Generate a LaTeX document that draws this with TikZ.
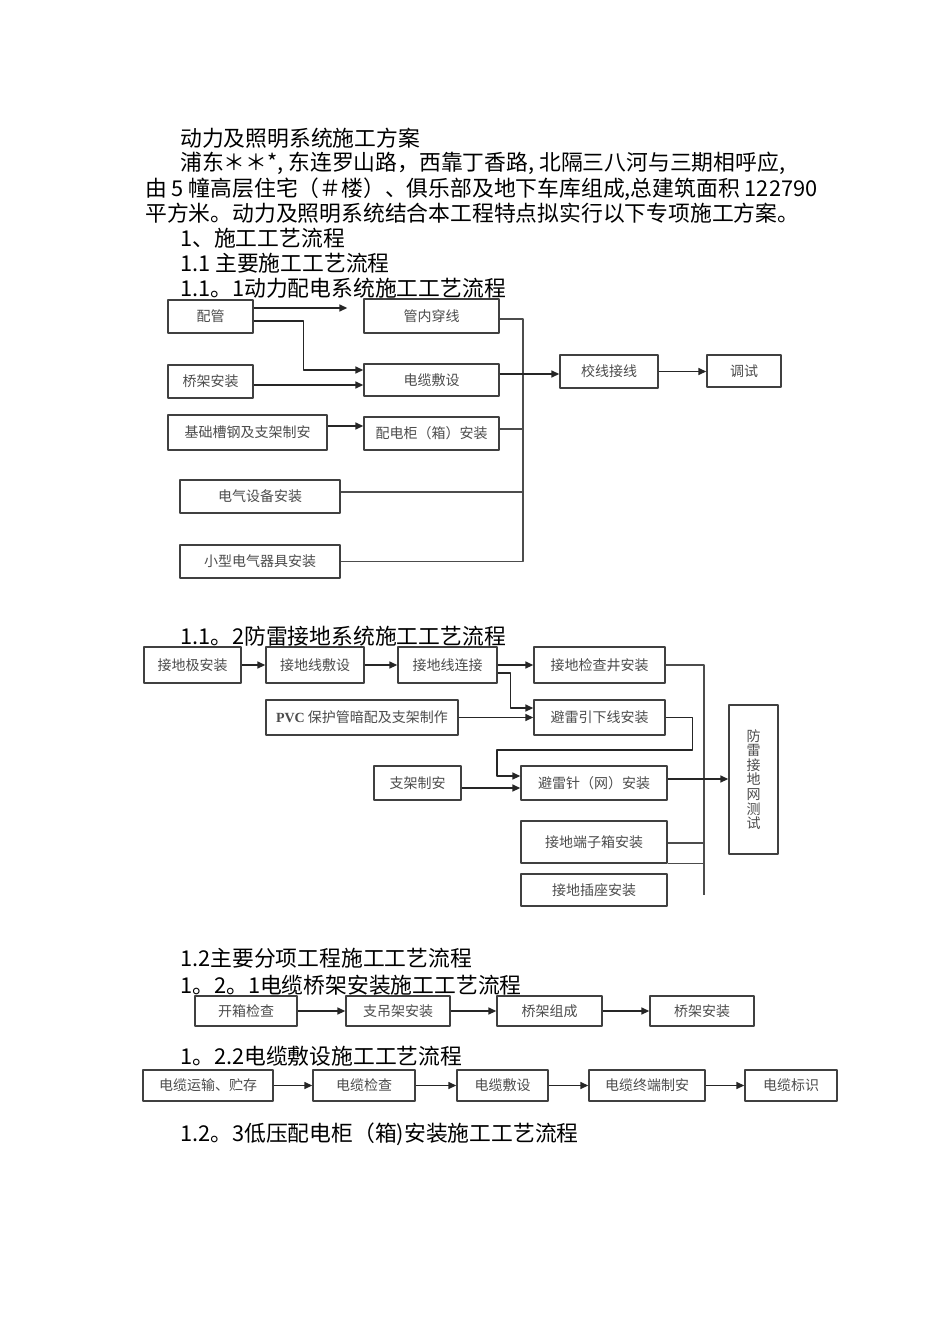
\documentclass[tikz,border=0pt]{standalone}
\usepackage{fontspec}
\setmainfont{Noto Sans CJK SC}
\newfontfamily\latin{Liberation Serif}
\usetikzlibrary{arrows.meta}
\begin{document}
\begin{tikzpicture}[x=1pt, y=-1pt, line join=round, >={Triangle[length=8pt,width=7pt]},
	box/.style={draw=black!75, line width=1.4pt, inner sep=0pt, font=\fontsize{14}{16}\selectfont, text=black!70},
	txt/.style={anchor=base west, inner sep=0pt, font=\fontsize{21.8}{26}\selectfont},
	arr/.style={->, line width=1.5pt, draw=black!85},
	ln/.style={line width=1.1pt, draw=black!70}]
	\fill[white] (0,0) rectangle (950,1344);
	% text
	\node[txt] (t1) at (180,146) {动力及照明系统施工方案};
	\node[txt] (t2) at (180,170) {浦东＊＊*, 东连罗山路，西靠丁香路, 北隔三八河与三期相呼应,};
	\node[txt] (t3) at (145,196) {由 5 幢高层住宅（＃楼）、俱乐部及地下车库组成,总建筑面积 122790};
	\node[txt] (t4) at (145,221) {平方米。动力及照明系统结合本工程特点拟实行以下专项施工方案。};
	\node[txt] (t5) at (180,246) {1、施工工艺流程};
	\node[txt] (t6) at (180,271) {1.1 主要施工工艺流程};
	\node[txt] (t7) at (180,296) {1.1。1动力配电系统施工工艺流程};
	\node[txt] (t8) at (180,644) {1.1。2防雷接地系统施工工艺流程};
	\node[txt] (t9) at (180,966) {1.2主要分项工程施工工艺流程};
	\node[txt] (t10) at (180,993) {1。2。1电缆桥架安装施工工艺流程};
	\node[txt] (t11) at (180,1064) {1。2.2电缆敷设施工工艺流程};
	\node[txt] (t12) at (180,1141) {1.2。3低压配电柜（箱)安装施工工艺流程};
	% 1.1.1
	\node[box, minimum width=85pt, minimum height=33pt] (pg) at (210.5,316.5) {配管};
	\node[box, minimum width=135pt, minimum height=34pt] (gnc) at (431.5,316) {管内穿线};
	\node[box, minimum width=85pt, minimum height=33pt] (qj) at (210.5,381.5) {桥架安装};
	\node[box, minimum width=135pt, minimum height=32pt] (dl) at (431.5,380) {电缆敷设};
	\node[box, minimum width=159pt, minimum height=35pt] (jc) at (247.5,432.5) {基础槽钢及支架制安};
	\node[box, minimum width=135pt, minimum height=33pt] (pdg) at (431.5,433.5) {配电柜（箱）安装};
	\node[box, minimum width=160pt, minimum height=33pt] (dq) at (260,496.5) {电气设备安装};
	\node[box, minimum width=160pt, minimum height=33pt] (xx) at (260,561.5) {小型电气器具安装};
	\node[box, minimum width=98pt, minimum height=33pt] (jx) at (609,371.5) {校线接线};
	\node[box, minimum width=74pt, minimum height=32pt] (ts) at (744,371) {调试};
	\coordinate (bus1) at (523,319);
	\draw[arr, shorten >=16pt] ([yshift=8.5pt]pg.east) -- ([yshift=8.5pt]pg.east -| gnc.west);
	\draw[arr] ([yshift=-4.5pt]pg.east) -- ++(50,0) |- ([yshift=10pt]dl.west);
	\draw[arr] ([yshift=-3.5pt]qj.east) -- ([yshift=-3.5pt]qj.east -| dl.west);
	\draw[arr] ([yshift=6.5pt]jc.east) -- ([yshift=6.5pt]jc.east -| pdg.west);
	\draw[ln] ([yshift=-3pt]gnc.east) -- (bus1) -- (bus1 |- xx.east) -- (xx.east);
	\draw[ln] ([yshift=4.5pt]pdg.east) -- ([yshift=4.5pt]pdg.east -| bus1);
	\draw[ln] ([yshift=4.5pt]dq.east) -- ([yshift=4.5pt]dq.east -| bus1);
	\draw[arr] ([yshift=6pt]dl.east) -- ([yshift=6pt]dl.east -| jx.west);
	\draw[arr] (jx.east) -- (jx.east -| ts.west);
	% 1.1.2
	\node[box, minimum width=97pt, minimum height=36pt] (jdj) at (192.5,665) {接地极安装};
	\node[box, minimum width=98pt, minimum height=36pt] (jdxfs) at (315,665) {接地线敷设};
	\node[box, minimum width=99pt, minimum height=36pt] (jdxlj) at (447.5,665) {接地线连接};
	\node[box, minimum width=131pt, minimum height=36pt] (jcj) at (599.5,665) {接地检查井安装};
	\node[box, minimum width=192pt, minimum height=35pt] (pvc) at (362,717.5) {{\latin\bfseries PVC} 保护管暗配及支架制作};
	\node[box, minimum width=131pt, minimum height=35pt] (yxx) at (599.5,717.5) {避雷引下线安装};
	\node[box, minimum width=87pt, minimum height=34pt] (zj) at (417.5,783) {支架制安};
	\node[box, minimum width=146pt, minimum height=34pt] (blz) at (594,783) {避雷针（网）安装};
	\node[box, minimum width=146pt, minimum height=42pt] (dzx) at (594,842) {接地端子箱安装};
	\node[box, minimum width=146pt, minimum height=32pt] (czs) at (594,890) {接地插座安装};
	\node[box, minimum width=49pt, minimum height=149pt, align=center, font=\fontsize{14}{14.6}\selectfont] (cs) at (753.5,779.5) {防\\雷\\接\\地\\网\\测\\试};
	\coordinate (bus2) at (704,665);
	\coordinate (bus2end) at (704,895);
	\coordinate (bend2) at (497,750);
	\draw[arr] (jdj.east) -- (jdxfs.west);
	\draw[arr] (jdxfs.east) -- (jdxlj.west);
	\draw[arr] (jdxlj.east) -- (jcj.west);
	\draw[ln] (jcj.east) -- (bus2) -- (bus2end);
	\draw[arr] ([yshift=-8pt]jdxlj.east) -- ++(13,0) |- ([yshift=9.5pt]yxx.west);
	\draw[arr] (pvc.east) -- (yxx.west);
	\draw[arr] (yxx.east) -- ++(27,0) |- (bend2) |- ([yshift=7pt]blz.west);
	\draw[arr] ([yshift=-5pt]zj.east) -- ([yshift=-5pt]zj.east -| blz.west);
	\draw[arr] ([yshift=4pt]blz.east) -- ([yshift=4pt]blz.east -| cs.west);
	\draw[ln] ([yshift=-1pt]dzx.east) -- ([yshift=-1pt]dzx.east -| bus2);
	\draw[ln] (dzx.south east) -- (dzx.south east -| bus2);
	% 1.2.1
	\node[box, minimum width=102pt, minimum height=30pt] (kx) at (246,1011) {开箱检查};
	\node[box, minimum width=104pt, minimum height=30pt] (zdj) at (398,1011) {支吊架安装};
	\node[box, minimum width=105pt, minimum height=30pt] (qjzc) at (549.5,1011) {桥架组成};
	\node[box, minimum width=104pt, minimum height=30pt] (qjaz) at (702,1011) {桥架安装};
	\draw[arr] (kx.east) -- (zdj.west);
	\draw[arr] (zdj.east) -- (qjzc.west);
	\draw[arr] (qjzc.east) -- (qjaz.west);
	% 1.2.2
	\node[box, minimum width=130pt, minimum height=31pt] (ys) at (208,1085.5) {电缆运输、贮存};
	\node[box, minimum width=102pt, minimum height=31pt] (jc2) at (364,1085.5) {电缆检查};
	\node[box, minimum width=91pt, minimum height=31pt] (fs2) at (502.5,1085.5) {电缆敷设};
	\node[box, minimum width=116pt, minimum height=31pt] (zd) at (647,1085.5) {电缆终端制安};
	\node[box, minimum width=92pt, minimum height=31pt] (bs) at (791,1085.5) {电缆标识};
	\draw[arr] (ys.east) -- (jc2.west);
	\draw[arr] (jc2.east) -- (fs2.west);
	\draw[arr] (fs2.east) -- (zd.west);
	\draw[arr] (zd.east) -- (bs.west);
\end{tikzpicture}
\end{document}
